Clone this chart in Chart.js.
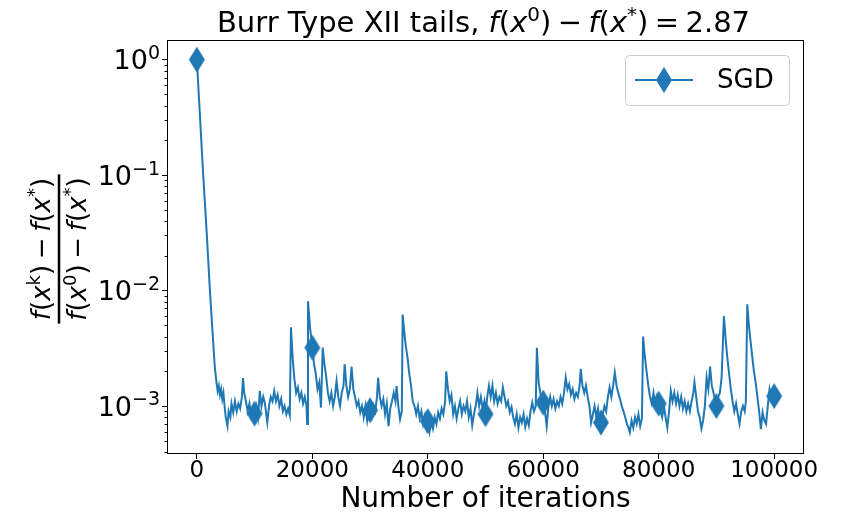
<!DOCTYPE html>
<html>
<head>
<meta charset="utf-8">
<script src="https://cdn.jsdelivr.net/npm/chart.js@4.4.1/dist/chart.umd.min.js"></script>
<style>
  html, body { margin: 0; padding: 0; background: #fff; }
</style>
</head>
<body>
<canvas id="chart" width="841" height="512"></canvas>
<script>
// iteration counts and relative gap of SGD
var iterations = [
  0, 500, 1100, 1700, 2260, 2700, 3100, 3400, 3600, 3800,
  4000, 4200, 4400, 4600, 4800, 5000, 5300, 5500, 5800, 6000,
  6300, 6600, 6900, 7200, 7500, 7800, 8000, 8200, 8500, 8800,
  9100, 9400, 9700, 10000, 10300, 10600, 10900, 11200, 11500, 11800,
  12200, 12500, 12800, 13100, 13400, 13700, 14000, 14300, 14600, 14900,
  15200, 15500, 15800, 16100, 16300, 16600, 16900, 17200, 17500, 17800,
  18100, 18400, 18700, 19000, 19100, 19250, 19600, 20000, 20300, 20600,
  20900, 21200, 21500, 21800, 22100, 22400, 22700, 23000, 23300, 23600,
  23900, 24200, 24500, 24800, 25100, 25400, 25600, 25900, 26200, 26500,
  26800, 27100, 27400, 27700, 28000, 28300, 28600, 28900, 29200, 29500,
  29800, 30000, 30300, 30600, 30900, 31200, 31400, 31700, 32000, 32300,
  32600, 32900, 33200, 33500, 33800, 34100, 34400, 34600, 34900, 35200,
  35500, 35650, 35900, 36200, 36500, 36800, 37100, 37400, 37700, 38000,
  38300, 38600, 38900, 39200, 39500, 39800, 40000, 40300, 40600, 40900,
  41200, 41500, 41800, 42100, 42400, 42700, 43000, 43200, 43500, 43800,
  44100, 44400, 44700, 45000, 45300, 45600, 45900, 46200, 46500, 46800,
  47100, 47400, 47700, 48000, 48300, 48600, 48900, 49200, 49500, 49800,
  50000, 50300, 50600, 50900, 51200, 51500, 51800, 52100, 52400, 52700,
  53000, 53300, 53600, 53900, 54200, 54500, 54800, 55100, 55400, 55700,
  56000, 56300, 56600, 56900, 57200, 57500, 57800, 58100, 58400, 58700,
  58900, 59200, 59500, 59800, 60000, 60300, 60600, 60900, 61200, 61500,
  61800, 62100, 62400, 62700, 63000, 63300, 63600, 63900, 64200, 64500,
  64800, 65100, 65400, 65700, 66000, 66300, 66500, 66800, 67100, 67400,
  67700, 68000, 68300, 68600, 68900, 69200, 69500, 69800, 70000, 70300,
  70600, 70900, 71200, 71500, 71800, 72100, 72400, 72700, 73000, 73300,
  73600, 73900, 74200, 74500, 74800, 75000, 75300, 75600, 75900, 76200,
  76500, 76800, 77100, 77300, 77600, 77900, 78200, 78500, 78800, 79100,
  79400, 79700, 80000, 80300, 80600, 80900, 81200, 81500, 81800, 82100,
  82400, 82700, 83000, 83300, 83600, 83900, 84200, 84500, 84800, 85100,
  85400, 85700, 86000, 86200, 86500, 86800, 87100, 87400, 87700, 88000,
  88300, 88600, 88900, 89200, 89500, 89800, 90000, 90300, 90600, 90900,
  91300, 91600, 91900, 92200, 92500, 92800, 93100, 93400, 93700, 94000,
  94300, 94600, 94900, 95100, 95350, 95600, 95900, 96200, 96500, 96800,
  97100, 97400, 97700, 98000, 98300, 98600, 98900, 99200, 99500, 99800,
  100000
];
var sgdGap = [
  1.0, 0.35, 0.1, 0.032, 0.01, 4.5e-3, 2.2e-3, 1.6e-3, 1.35e-3, 1.5e-3,
  1.25e-3, 1.4e-3, 1.15e-3, 1.3e-3, 1.0e-3, 8.0e-4, 6.7e-4, 9.0e-4, 8.0e-4, 1.05e-3,
  8.8e-4, 1.1e-3, 9.0e-4, 1.05e-3, 9.5e-4, 1.2e-3, 1.75e-3, 1.3e-3, 1.1e-3, 9.0e-4,
  1.05e-3, 8.2e-4, 9.5e-4, 8.6e-4, 1.0e-3, 8.0e-4, 1.35e-3, 1.0e-3, 1.2e-3, 1.05e-3,
  7.2e-4, 1.0e-3, 1.2e-3, 1.1e-3, 1.35e-3, 1.1e-3, 1.25e-3, 1.0e-3, 1.15e-3, 9.0e-4,
  1.0e-3, 8.5e-4, 9.5e-4, 8.3e-4, 4.8e-3, 2.6e-3, 1.7e-3, 1.3e-3, 1.45e-3, 1.15e-3,
  1.3e-3, 1.05e-3, 1.2e-3, 1.0e-3, 7.0e-4, 8.1e-3, 4.8e-3, 3.2e-3, 2.3e-3, 1.9e-3,
  1.4e-3, 1.6e-3, 9.7e-4, 3.2e-3, 2.3e-3, 1.8e-3, 1.3e-3, 1.1e-3, 1.3e-3, 1.0e-3,
  1.2e-3, 1.65e-3, 1.2e-3, 1.0e-3, 1.3e-3, 1.5e-3, 2.3e-3, 1.5e-3, 1.2e-3, 1.4e-3,
  2.2e-3, 1.4e-3, 1.2e-3, 1.0e-3, 1.1e-3, 8.8e-4, 1.0e-3, 8.0e-4, 1.0e-3, 7.5e-4,
  9.5e-4, 9.2e-4, 8.0e-4, 1.0e-3, 9.0e-4, 1.2e-3, 1.76e-3, 1.2e-3, 1.0e-3, 1.15e-3,
  8.5e-4, 1.05e-3, 6.7e-4, 9.5e-4, 1.1e-3, 1.3e-3, 1.1e-3, 1.49e-3, 1.0e-3, 7.7e-4,
  9.0e-4, 6.2e-3, 4.5e-3, 3.3e-3, 2.6e-3, 1.9e-3, 1.5e-3, 1.1e-3, 1.0e-3, 8.5e-4,
  1.0e-3, 7.8e-4, 9.0e-4, 7.0e-4, 8.2e-4, 6.5e-4, 7.4e-4, 6.0e-4, 7.5e-4, 6.4e-4,
  8.0e-4, 7.0e-4, 8.8e-4, 7.8e-4, 9.5e-4, 8.5e-4, 1.1e-3, 2.0e-3, 1.4e-3, 1.1e-3,
  1.25e-3, 8.5e-4, 1.0e-3, 7.8e-4, 9.5e-4, 1.1e-3, 8.5e-4, 1.0e-3, 9.0e-4, 1.1e-3,
  8.0e-4, 9.5e-4, 6.8e-4, 8.5e-4, 1.0e-3, 1.3e-3, 1.0e-3, 1.2e-3, 9.5e-4, 1.1e-3,
  8.5e-4, 1.2e-3, 1.5e-3, 1.2e-3, 1.5e-3, 1.1e-3, 1.3e-3, 1.05e-3, 1.2e-3, 1.1e-3,
  1.45e-3, 1.2e-3, 1.0e-3, 1.1e-3, 8.8e-4, 9.8e-4, 8.0e-4, 7.0e-4, 8.5e-4, 6.5e-4,
  8.0e-4, 7.2e-4, 8.5e-4, 6.6e-4, 7.8e-4, 6.8e-4, 9.0e-4, 1.07e-3, 9.0e-4, 1.0e-3,
  3.2e-3, 1.6e-3, 1.3e-3, 1.1e-3, 1.07e-3, 9.0e-4, 6.7e-4, 1.0e-3, 1.2e-3, 1.0e-3,
  1.15e-3, 9.5e-4, 1.1e-3, 1.0e-3, 1.2e-3, 1.05e-3, 1.3e-3, 1.76e-3, 1.4e-3, 1.55e-3,
  1.25e-3, 1.4e-3, 1.15e-3, 1.3e-3, 1.2e-3, 1.5e-3, 2.1e-3, 1.5e-3, 1.3e-3, 1.5e-3,
  1.2e-3, 1.0e-3, 7.2e-4, 8.5e-4, 1.0e-3, 8.0e-4, 9.5e-4, 7.0e-4, 7.2e-4, 8.5e-4,
  1.0e-3, 9.0e-4, 1.2e-3, 1.45e-3, 1.2e-3, 1.5e-3, 1.95e-3, 1.5e-3, 1.3e-3, 1.15e-3,
  1.0e-3, 9.0e-4, 8.0e-4, 7.0e-4, 6.4e-4, 5.9e-4, 7.5e-4, 6.5e-4, 8.0e-4, 7.0e-4,
  8.5e-4, 6.7e-4, 7.8e-4, 4.0e-3, 2.7e-3, 2.0e-3, 1.5e-3, 1.2e-3, 1.05e-3, 1.3e-3,
  1.0e-3, 1.2e-3, 1.05e-3, 9.0e-4, 8.0e-4, 1.0e-3, 8.0e-4, 6.5e-4, 9.0e-4, 1.35e-3,
  1.1e-3, 1.3e-3, 1.05e-3, 1.25e-3, 1.0e-3, 1.2e-3, 9.5e-4, 1.1e-3, 9.0e-4, 1.05e-3,
  9.0e-4, 1.1e-3, 1.3e-3, 1.6e-3, 1.2e-3, 9.0e-4, 8.0e-4, 6.4e-4, 7.5e-4, 1.0e-3,
  1.76e-3, 1.4e-3, 2.2e-3, 1.5e-3, 1.3e-3, 1.1e-3, 1.0e-3, 1.2e-3, 1.3e-3, 1.76e-3,
  6.0e-3, 3.8e-3, 2.6e-3, 1.9e-3, 1.4e-3, 1.1e-3, 9.0e-4, 1.05e-3, 8.5e-4, 7.0e-4,
  9.0e-4, 1.0e-3, 9.0e-4, 1.1e-3, 7.6e-3, 5.2e-3, 3.7e-3, 2.7e-3, 2.0e-3, 1.6e-3,
  1.2e-3, 9.0e-4, 6.3e-4, 8.8e-4, 7.5e-4, 7.0e-4, 1.0e-3, 1.4e-3, 1.2e-3, 1.35e-3,
  1.22e-3
];
var markerEvery = 10000;
var seriesName = 'SGD';
var xTicks = [0, 20000, 40000, 60000, 80000, 100000];
var yTicks = [1e-3, 1e-2, 1e-1, 1];
var yTickExponents = ['\u22123', '\u22122', '\u22121', '0'];
var yMinorTicks = [4e-4, 5e-4, 6e-4, 7e-4, 8e-4, 9e-4,
  2e-3, 3e-3, 4e-3, 5e-3, 6e-3, 7e-3, 8e-3, 9e-3,
  2e-2, 3e-2, 4e-2, 5e-2, 6e-2, 7e-2, 8e-2, 9e-2,
  0.2, 0.3, 0.4, 0.5, 0.6, 0.7, 0.8, 0.9];
var xLabel = 'Number of iterations';
// [text, kind]: r = upright, i = italic, s = superscript, o = operator
var titleParts = [['Burr Type XII tails, ', 'r'], ['f', 'i'], ['(', 'r'], ['x', 'i'], ['0', 's'], [')', 'r'],
  ['\u2212', 'o'], ['f', 'i'], ['(', 'r'], ['x', 'i'], ['*', 's'], [')', 'r'], ['=', 'o'], ['2.87', 'r']];
var yNumParts = [['f', 'i'], ['(', 'r'], ['x', 'i'], ['k', 's'], [')', 'r'], ['\u2212', 'o'],
  ['f', 'i'], ['(', 'r'], ['x', 'i'], ['*', 's'], [')', 'r']];
var yDenParts = [['f', 'i'], ['(', 'r'], ['x', 'i'], ['0', 's'], [')', 'r'], ['\u2212', 'o'],
  ['f', 'i'], ['(', 'r'], ['x', 'i'], ['*', 's'], [')', 'r']];

var blue = '#1f77b4';
var FONT = 'DejaVu Sans';

function makeDiamond(w, h) {
  var c = document.createElement('canvas');
  c.width = w + 2;
  c.height = h + 2;
  var g = c.getContext('2d');
  g.fillStyle = blue;
  g.beginPath();
  g.moveTo(c.width / 2, 1);
  g.lineTo(c.width - 1, c.height / 2);
  g.lineTo(c.width / 2, c.height - 1);
  g.lineTo(1, c.height / 2);
  g.closePath();
  g.fill();
  return c;
}
var diamond = makeDiamond(16, 26);

function partFont(kind, size) {
  if (kind === 'i') return 'italic ' + size + 'px ' + FONT;
  if (kind === 's') return Math.round(size * 0.7) + 'px ' + FONT;
  return size + 'px ' + FONT;
}
function richWidth(ctx, parts, size) {
  var w = 0;
  parts.forEach(function(p) {
    ctx.font = partFont(p[1], size);
    w += ctx.measureText(p[0]).width;
    if (p[1] === 'o') w += size * 0.44;
  });
  return w;
}
// draws parts left-aligned from x on baseline y
function drawRich(ctx, parts, x, y, size) {
  ctx.textBaseline = 'alphabetic';
  ctx.textAlign = 'left';
  parts.forEach(function(p) {
    ctx.font = partFont(p[1], size);
    var dx = 0, dy = 0;
    if (p[1] === 'o') dx = size * 0.22;
    if (p[1] === 's') dy = -size * 0.38;
    ctx.fillText(p[0], x + dx, y + dy);
    x += ctx.measureText(p[0]).width + dx * 2;
  });
}

var decorations = {
  id: 'decorations',
  afterDraw: function(chart) {
    var ctx = chart.ctx, a = chart.chartArea, ys = chart.scales.y;
    ctx.save();
    ctx.fillStyle = '#000';
    ctx.strokeStyle = '#000';
    ctx.lineWidth = 1;

    // minor log ticks on the left spine
    ctx.beginPath();
    yMinorTicks.forEach(function(v) {
      var py = Math.round(ys.getPixelForValue(v)) + 0.5;
      ctx.moveTo(a.left, py);
      ctx.lineTo(a.left - 3.5, py);
    });
    ctx.stroke();

    // four spines
    ctx.strokeRect(Math.round(a.left) - 0.5, Math.round(a.top) - 0.5,
      Math.round(a.right - a.left) + 1, Math.round(a.bottom - a.top) + 1);

    // y tick labels 10^k
    var ks = 27;
    yTicks.forEach(function(v, i) {
      var parts = [['10', 'r'], [yTickExponents[i], 's']];
      var w = richWidth(ctx, parts, ks);
      var py = ys.getPixelForValue(v);
      drawRich(ctx, parts, a.left - 8 - w, py + ks * 0.36, ks);
    });

    // title
    var ts = 29;
    var tw = richWidth(ctx, titleParts, ts);
    drawRich(ctx, titleParts, (a.left + a.right) / 2 - tw / 2 - 2, 32, ts);

    // y label as a fraction, rotated
    var fs = 26;
    ctx.save();
    ctx.translate(59, (a.top + a.bottom) / 2 + 2);
    ctx.rotate(-Math.PI / 2);
    var nw = richWidth(ctx, yNumParts, fs);
    var dw = richWidth(ctx, yDenParts, fs);
    var bar = Math.max(nw, dw) + 6;
    drawRich(ctx, yNumParts, -nw / 2, -9, fs);
    drawRich(ctx, yDenParts, -dw / 2, 27, fs);
    ctx.lineWidth = 2.5;
    ctx.beginPath();
    ctx.moveTo(-bar / 2, 0);
    ctx.lineTo(bar / 2, 0);
    ctx.stroke();
    ctx.restore();

    // legend
    var lx = 625, ly = 55, lw = 164, lh = 50;
    ctx.beginPath();
    ctx.roundRect(lx + 0.5, ly + 0.5, lw, lh, 4);
    ctx.fillStyle = 'rgba(255,255,255,0.8)';
    ctx.fill();
    ctx.strokeStyle = '#cccccc';
    ctx.lineWidth = 1;
    ctx.stroke();
    ctx.strokeStyle = blue;
    ctx.lineWidth = 2;
    ctx.beginPath();
    ctx.moveTo(635, 80);
    ctx.lineTo(693, 80);
    ctx.stroke();
    ctx.drawImage(diamond, 664 - diamond.width / 2, 80 - diamond.height / 2);
    ctx.fillStyle = '#000';
    ctx.font = '26px ' + FONT;
    ctx.textBaseline = 'middle';
    ctx.textAlign = 'left';
    ctx.fillText(seriesName, 717, 81);
    ctx.restore();
  }
};

Chart.defaults.font.family = FONT;
Chart.defaults.color = '#000';

var points = iterations.map(function(it, i) { return {x: it, y: sgdGap[i]}; });

new Chart(document.getElementById('chart'), {
  type: 'line',
  data: {
    datasets: [{
      label: seriesName,
      data: points,
      borderColor: blue,
      backgroundColor: blue,
      borderWidth: 2,
      tension: 0,
      fill: false,
      pointStyle: diamond,
      pointRadius: function(c) { return c.raw && c.raw.x % markerEvery === 0 ? 8 : 0; },
      pointHoverRadius: 0
    }]
  },
  options: {
    responsive: false,
    animation: false,
    devicePixelRatio: 1,
    layout: { padding: { top: 41, right: 38, left: 0, bottom: 0 } },
    plugins: {
      legend: { display: false },
      title: { display: false },
      tooltip: { enabled: false }
    },
    scales: {
      x: {
        type: 'linear',
        min: -5000,
        max: 105000,
        afterBuildTicks: function(s) { s.ticks = xTicks.map(function(v) { return {value: v}; }); },
        afterFit: function(s) { s.height = 59; },
        ticks: {
          font: { size: 23 },
          padding: -2,
          maxRotation: 0,
          autoSkip: false,
          callback: function(v) { return String(v); }
        },
        grid: { drawOnChartArea: false, drawTicks: true, tickLength: 6, color: '#000' },
        border: { display: false },
        title: { display: true, text: xLabel, font: { size: 28 }, padding: { top: 0, bottom: -5 } }
      },
      y: {
        type: 'logarithmic',
        min: 3.92e-4,
        max: 1.45,
        afterBuildTicks: function(s) { s.ticks = yTicks.map(function(v) { return {value: v}; }); },
        afterFit: function(s) { s.width = 168; },
        ticks: { display: false },
        grid: { drawOnChartArea: false, drawTicks: true, tickLength: 6, color: '#000' },
        border: { display: false }
      }
    }
  },
  plugins: [decorations]
});
</script>
</body>
</html>
